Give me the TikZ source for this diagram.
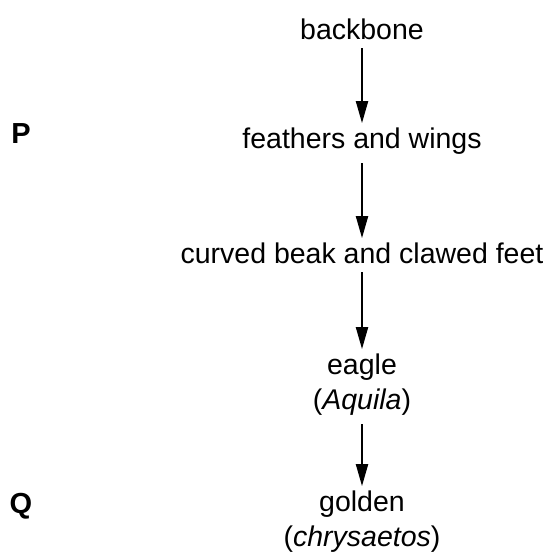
\documentclass[tikz,border=0pt]{standalone}
\usepackage{fontspec}
\setmainfont{Liberation Sans}
\usetikzlibrary{arrows.meta}

\begin{document}
\begin{tikzpicture}[x=1pt,y=-1pt,
		paso/.style={inner sep=0pt, anchor=base, align=center, font=\fontsize{28.5}{35}\selectfont},
		letra/.style={inner sep=0pt, anchor=base, font=\fontsize{29}{35}\selectfont\bfseries},
		flecha/.style={line width=2pt, -{Triangle[length=22pt,width=12pt]}, shorten <=9pt, shorten >=4pt}]
		
		\useasboundingbox (0,0) rectangle (549,554);
		
		% Pasos
		\node[paso] (backbone) at (362,39) {backbone};
		\node[paso] (feathers) at (362,148) {feathers and wings};
		\node[paso] (beak) at (362,263) {curved beak and clawed feet};
		\node[paso] (eagle) at (362,409) {eagle\\(\textit{Aquila})};
		\node[paso] (golden) at (362,546) {golden\\(\textit{chrysaetos})};
		
		% Letras
		\node[letra] (P) at (21,143) {P};
		\node[letra] (Q) at (21,513) {Q};
		
		% Flechas
		\draw[flecha] (backbone) -- (feathers);
		\draw[flecha] (feathers) -- (beak);
		\draw[flecha] (beak) -- (eagle);
		\draw[flecha] (eagle) -- (golden);
		
	\end{tikzpicture}
\end{document}
